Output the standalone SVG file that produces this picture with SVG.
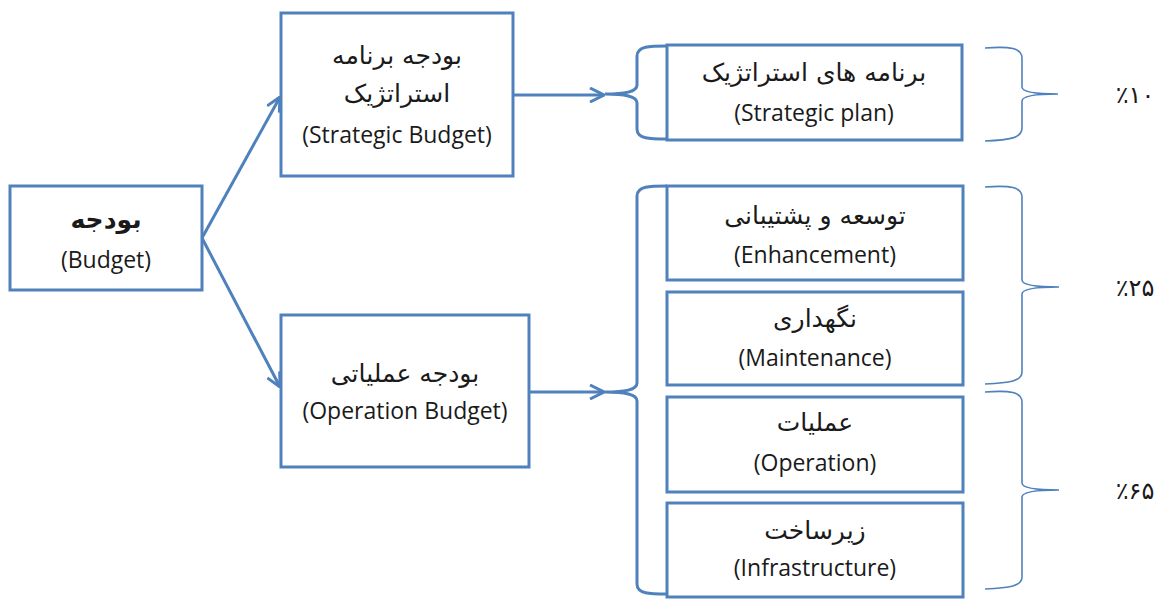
<svg xmlns="http://www.w3.org/2000/svg" width="1168" height="599" viewBox="0 0 1168 599">
<defs>
<style>
.box{fill:#fff;stroke:#4F81BD;stroke-width:3}
.con{fill:none;stroke:#4F81BD;stroke-width:3}
.brace{fill:none;stroke:#4F81BD;stroke-width:1.6}
.en{font-family:"Open Sans","DejaVu Sans",sans-serif;font-size:23px;fill:#1a1a1a;text-anchor:middle}
.fa{font-family:"DejaVu Sans",sans-serif;font-size:25px;fill:#1a1a1a;text-anchor:middle}
.pc{font-family:"DejaVu Sans",sans-serif;font-size:24px;fill:#1a1a1a;text-anchor:middle}
</style>
<marker id="arr" viewBox="0 0 16 16" refX="15" refY="8" markerWidth="16" markerHeight="16" markerUnits="userSpaceOnUse" orient="auto">
<path d="M1,1 L15,8 L1,15" fill="none" stroke="#4F81BD" stroke-width="3"/>
</marker>
</defs>
<rect width="1168" height="599" fill="#fff"/>
<g id="connectors">
<path class="con" d="M202,238 L280,97" marker-end="url(#arr)"/>
<path class="con" d="M202,238 L280,387" marker-end="url(#arr)"/>
<path class="con" d="M513,95 L604,95" marker-end="url(#arr)"/>
<path class="con" d="M529,392 L604,392" marker-end="url(#arr)"/>
<path class="con" d="M667,46 C650,46 637,46 637,56 L637,85 C637,92 625,94 605,94 C625,94 637,96 637,103 L637,129 C637,139 650,139 667,139"/>
<path class="con" d="M667,186 C650,186 637,186 637,196 L637,383 C637,390 625,392 605,392 C625,392 637,394 637,401 L637,584 C637,594 650,594 667,594"/>
</g>
<g id="braces">
<path class="brace" d="M985,48 C1010,46 1022,48 1022,58 L1022,87 C1022,92 1035,94 1058,94 C1035,94 1022,96 1022,101 L1022,128 C1022,138 1010,140 985,141"/>
<path class="brace" d="M985,187 C1010,185 1022,187 1022,197 L1022,280 C1022,285 1035,287 1059,287 C1035,287 1022,289 1022,294 L1022,372 C1022,381 1010,383 985,384"/>
<path class="brace" d="M985,392 C1010,390 1022,392 1022,402 L1022,483 C1022,488 1035,490 1059,490 C1035,490 1022,492 1022,497 L1022,577 C1022,586 1010,588 985,589"/>
</g>
<g id="budget">
<rect class="box" x="10" y="186" width="192" height="104"/>
<text class="fa" x="106" y="228" font-weight="bold" font-size="28">بودجه</text>
<text class="en" x="106" y="268" font-size="27">(Budget)</text>
</g>
<g id="strategic-budget">
<rect class="box" x="281" y="13" width="232" height="163"/>
<text class="fa" x="397" y="64">بودجه برنامه</text>
<text class="fa" x="397" y="102">استراتژیک</text>
<text class="en" x="397" y="143">(Strategic Budget)</text>
</g>
<g id="operation-budget">
<rect class="box" x="281" y="315" width="248" height="152"/>
<text class="fa" x="405" y="382">بودجه عملیاتی</text>
<text class="en" x="405" y="419">(Operation Budget)</text>
</g>
<g id="strategic-plan">
<rect class="box" x="667" y="45" width="295" height="95"/>
<text class="fa" x="814" y="81">برنامه های استراتژیک</text>
<text class="en" x="814" y="121">(Strategic plan)</text>
</g>
<g id="enhancement">
<rect class="box" x="667" y="186" width="296" height="94"/>
<text class="fa" x="815" y="224">توسعه و پشتیبانی</text>
<text class="en" x="815" y="263">(Enhancement)</text>
</g>
<g id="maintenance">
<rect class="box" x="667" y="292" width="296" height="93"/>
<text class="fa" x="815" y="327">نگهداری</text>
<text class="en" x="815" y="366">(Maintenance)</text>
</g>
<g id="operation">
<rect class="box" x="667" y="397" width="296" height="95"/>
<text class="fa" x="815" y="431">عملیات</text>
<text class="en" x="815" y="471">(Operation)</text>
</g>
<g id="infrastructure">
<rect class="box" x="667" y="503" width="296" height="94"/>
<text class="fa" x="815" y="539">زیرساخت</text>
<text class="en" x="815" y="576">(Infrastructure)</text>
</g>
<g id="percent-10"><text class="pc" x="1135" y="103">٪۱۰</text></g>
<g id="percent-25"><text class="pc" x="1135" y="296">٪۲۵</text></g>
<g id="percent-65"><text class="pc" x="1135" y="499">٪۶۵</text></g>
</svg>
